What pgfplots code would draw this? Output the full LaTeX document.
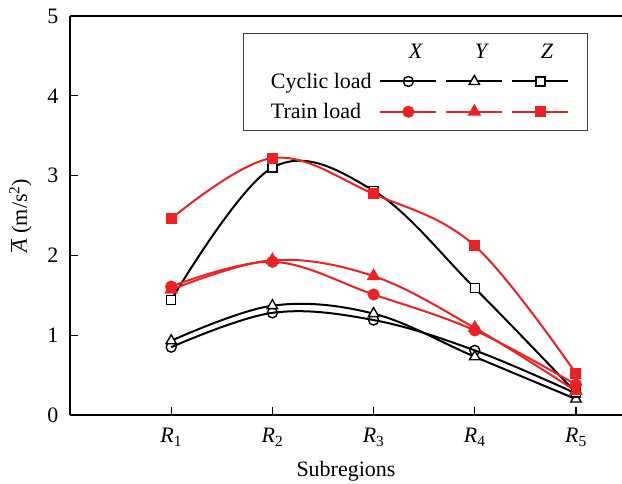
\documentclass[border=0pt]{standalone}
\usepackage{fontspec}
\setmainfont{Liberation Serif}
\usepackage{pgfplots}
\pgfplotsset{compat=1.18}
\definecolor{trainred}{RGB}{237,32,36}

\pgfplotstableread{
x cx cy cz tx ty tz
1 0.85 0.93 1.44 1.61 1.57 2.46
2 1.28 1.37 3.10 1.92 1.94 3.22
3 1.19 1.27 2.81 1.51 1.74 2.77
4 0.81 0.73 1.59 1.06 1.09 2.12
5 0.27 0.20 0.28 0.38 0.30 0.52
}\data

\begin{document}
\begin{tikzpicture}[font=\fontsize{22bp}{26bp}\selectfont]
\begin{axis}[
  scale only axis, width=552bp, height=399bp,
  xmin=0, xmax=5.455, ymin=0, ymax=5,
  axis x line=box, axis y line=left,
  y axis line style={-}, x axis line style={-},
  axis line style={line width=1.2bp},
  xtick={1,2,3,4,5},
  xticklabels={\textit{R}\textsubscript{1},\textit{R}\textsubscript{2},\textit{R}\textsubscript{3},\textit{R}\textsubscript{4},\textit{R}\textsubscript{5}},
  ytick={0,1,2,3,4,5},
  xtick pos=bottom, ytick pos=left,
  tick align=inside, major tick length=8bp,
  tick style={line width=1.1bp, black},
  /pgf/number format/assume math mode=true,
  xticklabel style={yshift=-10bp},
  yticklabel style={xshift=-8bp},
  xlabel={Subregions},
  xlabel style={yshift=-8bp},
  ylabel={$\overline{\textit{A}}$ (m/s\textsuperscript{2})},
  ylabel style={yshift=9bp},
  legend columns=4,
  legend style={at={(rel axis cs:0.313,0.957)}, anchor=north west,
    draw=black!75, line width=1.1bp, inner xsep=14bp, inner ysep=10bp,
    nodes={inner sep=0pt, anchor=west}, column sep=3.5bp, row sep=13.5bp},
  legend image code/.code={\draw[mark repeat=2,mark phase=2]
    plot coordinates {(0bp,0bp) (28bp,0bp) (56bp,0bp)};},
  rowhead/.style={legend image code/.code={\path[draw=none] (0bp,0bp) -- (10bp,0bp);}},
]
% cyclic load: open marks
\addplot[black, line width=2bp, smooth, tension=0.6, mark=o, mark size=5bp, mark options={line width=1.4bp, fill=white}, forget plot] table[x=x,y=cx] {\data};
\addplot[black, line width=2bp, smooth, tension=0.6, mark=triangle*, mark size=6bp, mark options={line width=1.4bp, fill=white}, forget plot] table[x=x,y=cy] {\data};
\addplot[black, line width=2bp, smooth, tension=0.6, mark=square*, mark size=4.5bp, mark options={line width=1.4bp, fill=white}, forget plot] table[x=x,y=cz] {\data};
% train load: filled marks
\addplot[trainred, line width=2bp, smooth, tension=0.6, mark=*, mark size=5bp, forget plot] table[x=x,y=tx] {\data};
\addplot[trainred, line width=2bp, smooth, tension=0.6, mark=triangle*, mark size=6bp, forget plot] table[x=x,y=ty] {\data};
\addplot[trainred, line width=2bp, smooth, tension=0.6, mark=square*, mark size=4.5bp, forget plot] table[x=x,y=tz] {\data};

% legend: header row
\addlegendimage{rowhead}\addlegendentry{\makebox[105bp][l]{}}
\addlegendimage{legend image code/.code={\node[inner sep=0pt] at (28bp,0) {\textit{X}};}}\addlegendentry{}
\addlegendimage{legend image code/.code={\node[inner sep=0pt] at (28bp,0) {\textit{Y}};}}\addlegendentry{}
\addlegendimage{legend image code/.code={\node[inner sep=0pt] at (28bp,0) {\textit{Z}};}}\addlegendentry{}
% cyclic load row
\addlegendimage{rowhead}\addlegendentry{\makebox[105bp][l]{Cyclic load}}
\addlegendimage{black, line width=2bp, mark=o, mark size=5bp, mark options={line width=1.4bp, fill=white}}\addlegendentry{}
\addlegendimage{black, line width=2bp, mark=triangle*, mark size=6bp, mark options={line width=1.4bp, fill=white}}\addlegendentry{}
\addlegendimage{black, line width=2bp, mark=square*, mark size=4.5bp, mark options={line width=1.4bp, fill=white}}\addlegendentry{}
% train load row
\addlegendimage{rowhead}\addlegendentry{\makebox[105bp][l]{Train load}}
\addlegendimage{trainred, line width=2bp, mark=*, mark size=5bp}\addlegendentry{}
\addlegendimage{trainred, line width=2bp, mark=triangle*, mark size=6bp}\addlegendentry{}
\addlegendimage{trainred, line width=2bp, mark=square*, mark size=4.5bp}\addlegendentry{}
\end{axis}
\pgfresetboundingbox
\path (-70bp,-69bp) rectangle (552bp,415bp);
\end{tikzpicture}
\end{document}
